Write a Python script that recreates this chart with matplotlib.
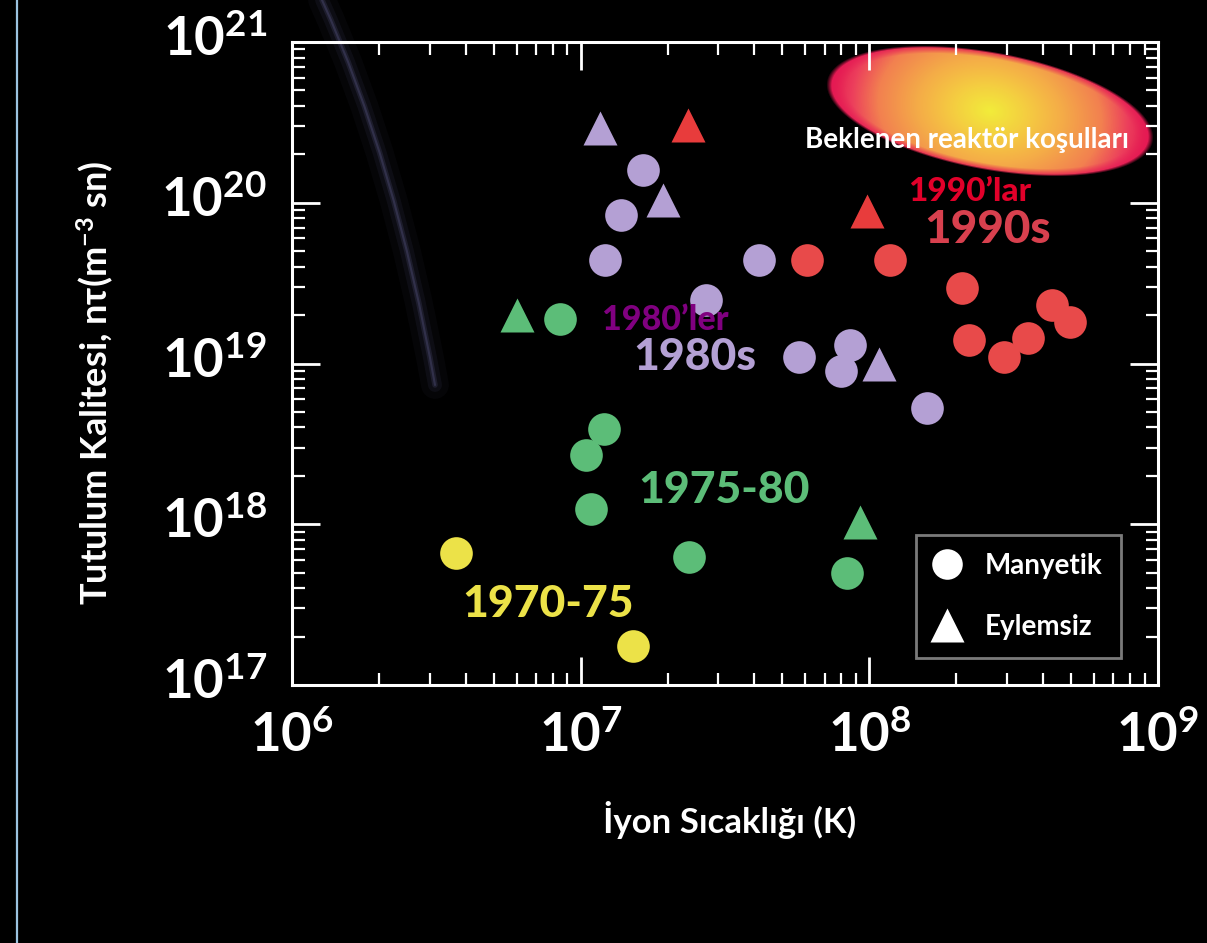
import matplotlib
matplotlib.use('Agg')
import matplotlib.pyplot as plt
import matplotlib.transforms as mtransforms
import numpy as np
from matplotlib.lines import Line2D
from matplotlib.path import Path
from matplotlib.patches import PathPatch
from matplotlib.colors import LinearSegmentedColormap

plt.rcParams['font.family'] = ['Lato', 'DejaVu Sans']
plt.rcParams['mathtext.fontset'] = 'custom'
plt.rcParams['mathtext.rm'] = 'Lato:bold'
plt.rcParams['mathtext.bf'] = 'Lato:bold'
plt.rcParams['mathtext.it'] = 'Lato:bold'

# ion temperature (K) and confinement quality n*tau (m^-3 s)
y70_T = [3.7e6, 1.52e7]
y70_nt = [6.6e17, 1.75e17]

g75_circ_T = [8.5e6, 1.2e7, 1.04e7, 1.09e7, 2.37e7, 8.4e7]
g75_circ_nt = [1.9e19, 3.9e18, 2.7e18, 1.24e18, 6.3e17, 5.0e17]
g75_tri_T = [6.0e6, 9.3e7]
g75_tri_nt = [2.0e19, 1.03e18]

p80_circ_T = [1.64e7, 1.38e7, 1.21e7, 2.72e7, 4.15e7, 5.7e7, 8.6e7, 8.0e7, 1.58e8]
p80_circ_nt = [1.6e20, 8.4e19, 4.4e19, 2.5e19, 4.4e19, 1.1e19, 1.3e19, 9.0e18, 5.3e18]
p80_tri_T = [1.17e7, 1.93e7, 1.08e8]
p80_tri_nt = [2.9e20, 1.04e20, 1.0e19]

r90_circ_T = [6.1e7, 1.18e8, 2.1e8, 2.22e8, 2.92e8, 3.55e8, 4.3e8, 4.95e8]
r90_circ_nt = [4.4e19, 4.4e19, 2.95e19, 1.4e19, 1.1e19, 1.45e19, 2.3e19, 1.8e19]
r90_tri_T = [2.35e7, 9.8e7]
r90_tri_nt = [3.05e20, 8.9e19]

xticks = [1e6, 1e7, 1e8, 1e9]
xticklabels = [r'$\mathbf{10^{6}}$', r'$\mathbf{10^{7}}$', r'$\mathbf{10^{8}}$', r'$\mathbf{10^{9}}$']
yticks = [1e17, 1e18, 1e19, 1e20, 1e21]
yticklabels = [r'$\mathbf{10^{17}}$', r'$\mathbf{10^{18}}$', r'$\mathbf{10^{19}}$',
               r'$\mathbf{10^{20}}$', r'$\mathbf{10^{21}}$']

W, H = 1207, 943
fig = plt.figure(figsize=(W / 100, H / 100), dpi=100, facecolor='black')

# thin light blue rule at the left edge
fig.add_artist(Line2D([17 / W, 17 / W], [0, 1], color='#9cc4e0', lw=1.6))

# faint arc in the background (decoration)
arc = Path([(322 / W, 1.0), (395 / W, 1 - 160 / H), (435 / W, 1 - 385 / H)],
           [Path.MOVETO, Path.CURVE3, Path.CURVE3])
for lw, a in [(20, 0.04), (10, 0.07), (4, 0.14), (1.5, 0.2)]:
    fig.add_artist(PathPatch(arc, transform=fig.transFigure, fill=False,
                             edgecolor='#8480c4', lw=lw, alpha=a, capstyle='round'))

# reactor-conditions ellipse, drawn as an image behind the main axes
ex0, ey0, ex1, ey1 = 815, 36, 1160, 190
eax = fig.add_axes([ex0 / W, 1 - ey1 / H, (ex1 - ex0) / W, (ey1 - ey0) / H], zorder=0)
eax.axis('off')
px, py = np.meshgrid(np.arange(ex0, ex1) + 0.5, np.arange(ey0, ey1) + 0.5)
th = np.deg2rad(10.5)
dx, dy = px - 990, py - 111
u = dx * np.cos(th) + dy * np.sin(th)
v = -dx * np.sin(th) + dy * np.cos(th)
a_, b_ = 166.0, 59.0
r = np.sqrt((u / a_) ** 2 + (v / b_) ** 2)
t = np.clip(np.sqrt((u / a_) ** 2 + 0.25 * (v / b_) ** 2), 0, 1)
cmap = LinearSegmentedColormap.from_list('reactor', [
    (0.0, '#f2ec3a'), (0.2, '#f4d040'), (0.45, '#f4aa48'),
    (0.68, '#f28050'), (0.84, '#ec3e5c'), (1.0, '#e2104e')])
rgba = cmap(t)
rim = np.clip((r - 0.88) / 0.12, 0, 1)
rgba[..., :3] = rgba[..., :3] * (1 - rim[..., None]) + np.array([0.9, 0.1, 0.33]) * rim[..., None]
rgba[..., 3] = np.clip((1 - r) * 30, 0, 1)
eax.imshow(rgba, extent=[0, 1, 0, 1], aspect='auto', interpolation='bilinear')
eax.set_xlim(0, 1)
eax.set_ylim(0, 1)

ax = fig.add_axes([292 / W, 1 - 685 / H, 866 / W, 643 / H], zorder=1)
ax.set_facecolor('none')
ax.set_xscale('log')
ax.set_yscale('log')
ax.set_xlim(1e6, 1e9)
ax.set_ylim(1e17, 1e21)

ms_c, ms_t = 23.5, 25
ax.plot(y70_T, y70_nt, 'o', ms=ms_c, color='#ece248', mec='none')
ax.plot(g75_circ_T, g75_circ_nt, 'o', ms=ms_c, color='#5cbd78', mec='none')
ax.plot(g75_tri_T, g75_tri_nt, '^', ms=ms_t, color='#5cbd78', mec='none')
ax.plot(p80_circ_T, p80_circ_nt, 'o', ms=ms_c, color='#b4a0d4', mec='none')
ax.plot(p80_tri_T, p80_tri_nt, '^', ms=ms_t, color='#b4a0d4', mec='none')
ax.plot(r90_circ_T, r90_circ_nt, 'o', ms=ms_c, color='#e84a4a', mec='none')
ax.plot(r90_tri_T, r90_tri_nt, '^', ms=ms_t, color='#e83c3c', mec='none')

# era labels
ax.text(3.9e6, 3.2e17, '1970-75', color='#ece248', fontsize=32, fontweight='black',
        ha='left', va='center')
ax.text(1.58e7, 1.63e18, '1975-80', color='#5cbd78', fontsize=32, fontweight='black',
        ha='left', va='center')
ax.text(1.52e7, 1.1e19, '1980s', color='#b4a0d4', fontsize=32, fontweight='black',
        ha='left', va='center')
ax.text(1.19e7, 1.87e19, '1980\u2019ler', color='#800080', fontsize=24.5, fontweight='black',
        ha='left', va='center')
ax.text(1.55e8, 6.8e19, '1990s', color='#d8404e', fontsize=33, fontweight='black',
        ha='left', va='center')
ax.text(1.36e8, 1.18e20, '1990\u2019lar', color='#e2002a', fontsize=24, fontweight='black',
        ha='left', va='center')
ax.text(6.0e7, 2.45e20, 'Beklenen reaktör koşulları', color='white', fontsize=20,
        fontweight='bold', ha='left', va='center')

for s in ax.spines.values():
    s.set_color('white')
    s.set_linewidth(2.2)
ax.tick_params(which='both', direction='in', top=True, right=True, colors='white')
ax.tick_params(which='major', length=20, width=2)
ax.tick_params(which='minor', length=9, width=1.6)
ax.set_xticks(xticks, xticklabels)
ax.set_yticks(yticks, yticklabels)
ax.tick_params(axis='x', which='major', labelsize=38, pad=18)
ax.tick_params(axis='y', which='major', labelsize=38, pad=18)
up = mtransforms.ScaledTranslation(0, 5 / 72, fig.dpi_scale_trans)
for lab in ax.get_yticklabels():
    lab.set_transform(lab.get_transform() + up)

handles = [Line2D([], [], marker='o', ls='none', ms=22, color='white', mec='none'),
           Line2D([], [], marker='^', ls='none', ms=25, color='white', mec='none')]
leg = ax.legend(handles, ['Manyetik', 'Eylemsiz'], loc='lower right',
                bbox_to_anchor=(0.957, 0.042), frameon=True, facecolor='black',
                edgecolor='#9a9a9a', fancybox=False, labelcolor='white',
                prop={'family': ['Lato', 'DejaVu Sans'], 'weight': 'bold', 'size': 20},
                labelspacing=1.25, handlelength=1.0, handletextpad=0.85, borderpad=0.65,
                borderaxespad=0)
leg.get_frame().set_linewidth(2)

fig.text(95 / W, 1 - 383 / H, 'Tutulum Kalitesi, nτ(m$^{-3}$ sn)', color='white',
         fontsize=26, fontweight='bold', rotation=90, ha='center', va='center')
fig.text(730 / W, 1 - 820 / H, 'İyon Sıcaklığı (K)', color='white',
         fontsize=25, fontweight='bold', ha='center', va='center')

fig.savefig('out.png', dpi=100, facecolor='black')
